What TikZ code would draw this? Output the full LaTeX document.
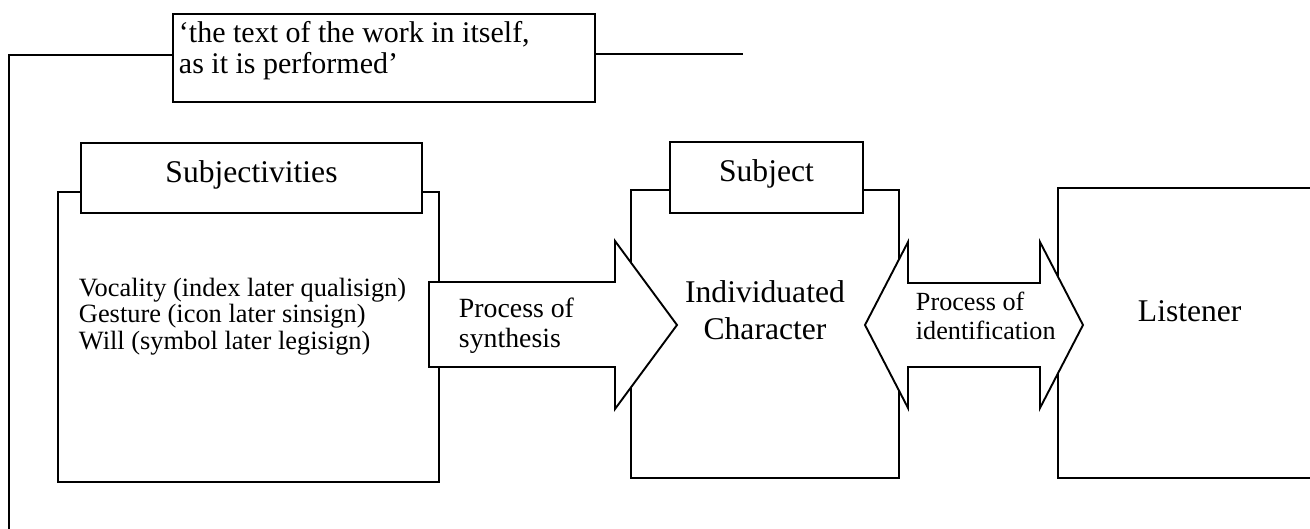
\documentclass[tikz,border=0pt]{standalone}
\usepackage{fontspec}
\setmainfont{Liberation Serif}
\begin{document}
\begin{tikzpicture}[x=1pt,y=-1pt, line width=1.9pt, line join=miter,
  box/.style={draw, fill=white, rectangle, inner sep=0pt},
  arrowshape/.style={draw, fill=white},
  big/.style={font=\fontsize{31.6}{37}\selectfont, inner sep=0pt},
  mid/.style={font=\fontsize{27.8}{30}\selectfont, inner sep=0pt},
  idf/.style={font=\fontsize{26.2}{29}\selectfont, inner sep=0pt},
  small/.style={font=\fontsize{26.4}{27}\selectfont, inner sep=0pt},
  quotefont/.style={font=\fontsize{30}{31}\selectfont, inner sep=0pt}]
\useasboundingbox (0,0) rectangle (1310,529);
\clip (0,0) rectangle (1310,529);

% quotation box with its two connectors
\node[box, minimum width=422pt, minimum height=88pt] (quote) at (384,58) {};
\coordinate (qy) at (0,55);
\coordinate (lft) at (9,545);
\coordinate (rgt) at (743,54);
\draw (quote.west |- qy) -| (lft);
\draw (quote.east |- rgt) -- (rgt);
\node[quotefont, anchor=base west] (q1) at (178,43) {`the text of the work in itself,};
\node[quotefont, anchor=base west] (q2) at (178,74) {as it is performed'};

% listener box (runs off the right edge)
\node[box, minimum width=290pt, minimum height=290pt, anchor=west] (listener) at (1057,333) {};

% subjectivities box with tab
\node[box, minimum width=381pt, minimum height=290pt] (subjmain) at (248.5,337) {};
\node[box, minimum width=341pt, minimum height=70pt] (subjtab) at (251.5,178) {};

% subject box with tab
\node[box, minimum width=268pt, minimum height=288pt] (submain) at (765,334) {};
\node[box, minimum width=193pt, minimum height=71pt] (subtab) at (766.5,177.5) {};

% block arrows
\draw[arrowshape] (429,282) -- (615,282) -- (615,241) -- (677,325)
  -- (615,409) -- (615,367) -- (429,367) -- cycle;
\draw[arrowshape] (865,325) -- (908,242) -- (908,283) -- (1040,283) -- (1040,242)
  -- (1083,325) -- (1040,408) -- (1040,367) -- (908,367) -- (908,408) -- cycle;

% labels
\node[big, anchor=base] (l1) at (251.5,183) {Subjectivities};
\node[big, anchor=base] (l2) at (766.5,182) {Subject};
\node[big, anchor=base] (l3) at (765,303) {Individuated};
\node[big, anchor=base] (l4) at (765,340) {Character};
\node[big, anchor=base west] (l5) at (1137,322) {Listener};
\node[small, anchor=base west] (v1) at (78,297) {Vocality (index later qualisign)};
\node[small, anchor=base west] (v2) at (78,323) {Gesture (icon later sinsign)};
\node[small, anchor=base west] (v3) at (78,350) {Will (symbol later legisign)};
\node[mid, anchor=base west] (p1) at (458,318) {Process of};
\node[mid, anchor=base west] (p2) at (458,348) {synthesis};
\node[idf, anchor=base west] (p3) at (915,311) {Process of};
\node[idf, anchor=base west] (p4) at (915,340) {identification};
\end{tikzpicture}
\end{document}
